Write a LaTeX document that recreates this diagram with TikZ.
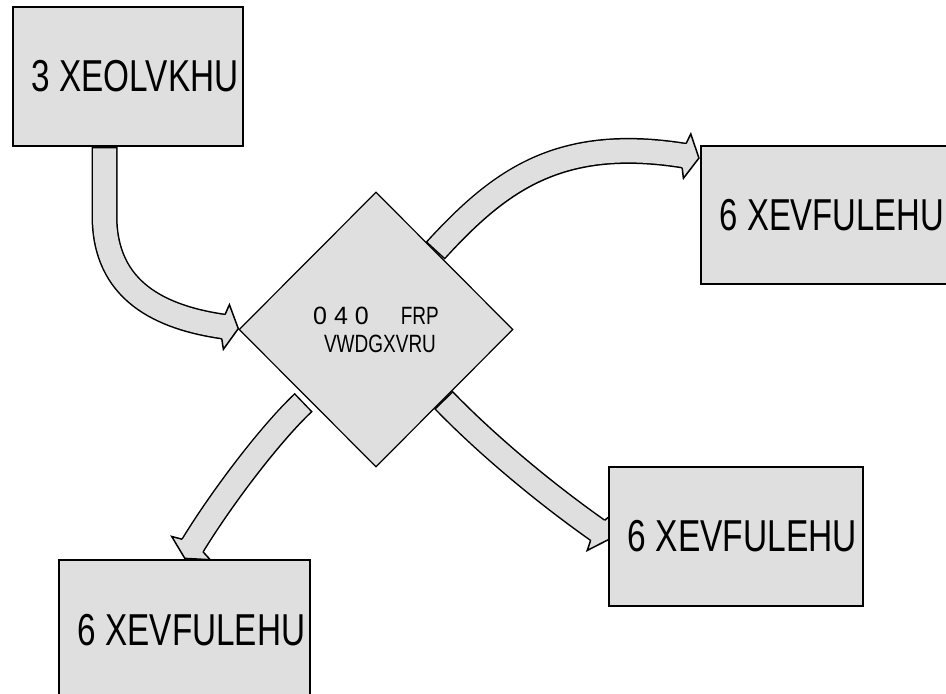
\documentclass[tikz,border=0pt]{standalone}
\usepackage{fontspec}
\usepackage{graphicx}
\setmainfont{Liberation Sans}
\usetikzlibrary{calc,shapes.geometric,backgrounds}
\definecolor{boxgray}{RGB}{223,223,223}
\tikzset{
  boxnode/.style={draw=black, line width=1.8pt, fill=boxgray, inner sep=0pt,
    font=\fontsize{44.7}{50}\selectfont},
  mqnode/.style={diamond, aspect=1, draw=black, line width=1.2pt, fill=boxgray,
    inner sep=0pt, minimum width=274pt, minimum height=275pt, align=center,
    font=\fontsize{25}{28}\selectfont},
  shaftout/.style={line width=26pt, draw=black},
  shaftin/.style={line width=23pt, draw=boxgray, shorten <=1.5pt},
  headstyle/.style={fill=boxgray, draw=black, line width=1.5pt, line join=miter}
}
% #1 path, #2 last control point, #3 end point
\newcommand{\blockarrow}[3]{%
  \draw[shaftout] #1;
  \draw[shaftin] #1;
  \coordinate (hE) at #3;
  \coordinate (hC) at #2;
  \coordinate (hB) at ($(hE)!3pt!(hC)$);
  \filldraw[headstyle] ($(hB)!12.25pt!90:(hC)$) -- ($(hE)!22.5pt!90:(hC)$)
    -- ($(hE)!-12pt!(hC)$) -- ($(hE)!22.5pt!-90:(hC)$) -- ($(hB)!12.25pt!-90:(hC)$);
}
\begin{document}
\begin{tikzpicture}[x=1pt,y=-1pt]
\useasboundingbox (0,0) rectangle (946,694);
\clip (0,0) rectangle (946,694);

\node[boxnode, minimum width=230pt, minimum height=139pt] (pub) at (128,76.5)
  {\hspace*{14pt}\scalebox{0.745}[1]{3 XEOLVKHU}};
\node[boxnode, minimum width=262pt, minimum height=138pt] (s1) at (832,215)
  {\scalebox{0.735}[1]{6 XEVFULEHU}};
\node[boxnode, minimum width=254pt, minimum height=139pt] (s2) at (736,536.5)
  {\hspace*{13pt}\scalebox{0.75}[1]{6 XEVFULEHU}};
\node[boxnode, minimum width=251pt, minimum height=140pt] (s3) at (184.5,630)
  {\hspace*{14pt}\scalebox{0.745}[1]{6 XEVFULEHU}};
\node[mqnode] (mq) at (376,329.5)
  {0 4 0\hspace{32pt}\scalebox{0.76}[1]{FRP}\\\hspace*{8pt}\scalebox{0.76}[1]{VWDGXVRU}};

\begin{pgfonlayer}{background}
  % Publisher -> MQ
  \blockarrow{($(pub.south)+(-23.5,0)$) -- ($(pub.south)+(-23.5,69)$)
      .. controls ($(pub.south)+(-23.5,144)$) and (160,318) .. ($(mq.west)+(-12,-2.5)$)}
    {(160,318)}{($(mq.west)+(-12,-2.5)$)}
  % MQ -> Subscriber top right
  \blockarrow{($(mq.north)!0.43!(mq.east)$) .. controls (500,180) and (560,135)
      .. ($(s1.north west)+(-13,11)$)}
    {(560,135)}{($(s1.north west)+(-13,11)$)}
  % MQ -> Subscriber bottom right
  \blockarrow{($(mq.east)!0.51!(mq.south)$) .. controls (490,448) and (550,497)
      .. ($(s2.west)+(-8,-4.5)$)}
    {(550,497)}{($(s2.west)+(-8,-4.5)$)}
  % MQ -> Subscriber bottom left
  \blockarrow{($($(mq.west)!0.5!(mq.south)$)+(-3.5,3.75)$) .. controls (270,434) and (220,500)
      .. ($(s3.north)+(6.5,-11)$)}
    {(220,500)}{($(s3.north)+(6.5,-11)$)}
\end{pgfonlayer}
\end{tikzpicture}
\end{document}
